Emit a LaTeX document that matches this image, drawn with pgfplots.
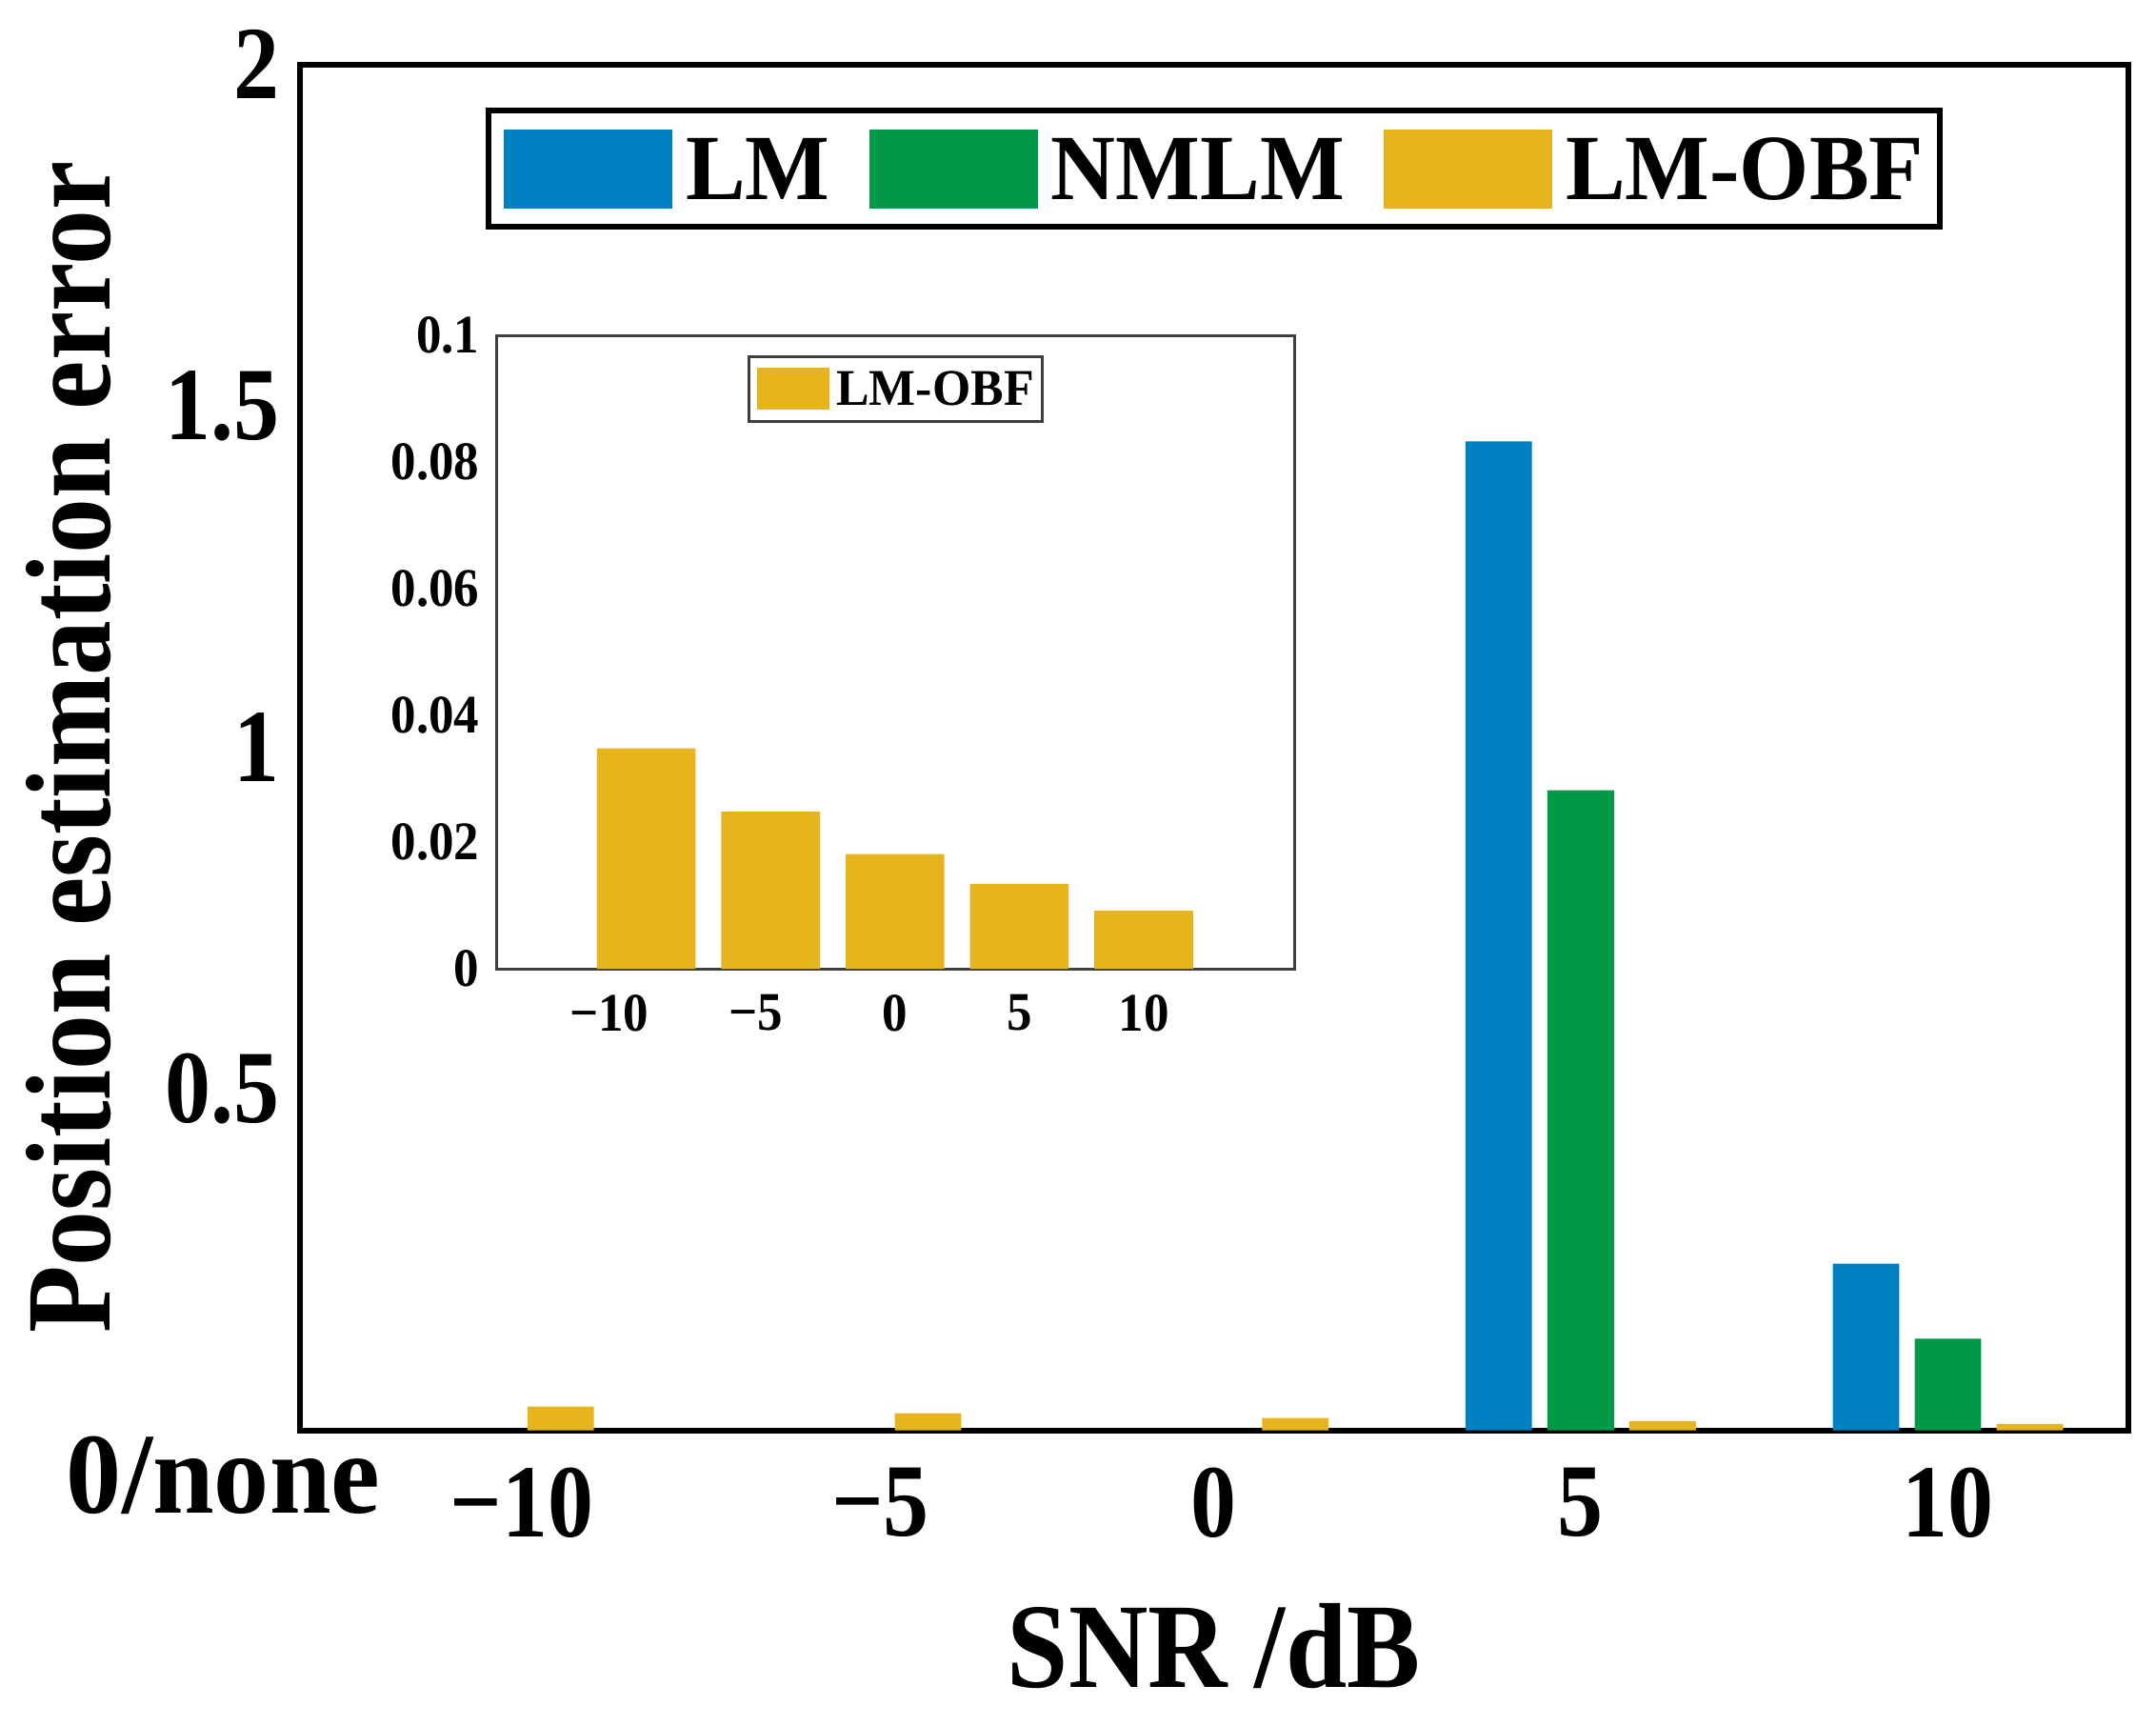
\documentclass[border=0pt]{standalone}
\usepackage{fontspec}
\setmainfont{Liberation Serif}
\newfontfamily\tickf{Liberation Serif}[FakeStretch=0.88]
\newfontfamily\labf{Liberation Serif}[FakeStretch=0.91]
\newfontfamily\nonef{Liberation Serif}[FakeStretch=0.96]
\newfontfamily\legf{Liberation Serif}[FakeStretch=0.96]
\newfontfamily\insetf{Liberation Serif}[FakeStretch=0.93]
\usepackage{pgfplots}
\pgfplotsset{compat=1.18}
\definecolor{cLM}{RGB}{0,128,192}
\definecolor{cNM}{RGB}{0,153,72}
\definecolor{cOB}{RGB}{230,181,30}
\pgfplotsset{
  bigleg/.style={legend image code/.code={\path[##1] (0pt,-8.3pt) rectangle (35.4pt,8.3pt);}},
  smallleg/.style={legend image code/.code={\path[##1] (0pt,-4.4pt) rectangle (15.2pt,4.4pt);}},
}
\begin{document}
\begin{tikzpicture}
\begin{axis}[
  name=main,
  at={(0pt,0pt)}, anchor=south west,
  scale only axis, width=383.9pt, height=286.8pt,
  xmin=-0.487, xmax=4.49, ymin=0, ymax=2,
  axis line style={line width=1.2pt, black},
  xtick={0,1,2,3,4},
  xticklabels={\hspace*{18pt}−10, \hspace*{14.4pt}−5, 0, 5, 10},
  ytick={0.5,1,1.5,2},
  yticklabels={0.5,1,1.5,2},
  major tick length=0pt,
  tick label style={font=\tickf\fontsize{21.8}{21.8}\selectfont\bfseries},
  xticklabel style={yshift=-4.4pt},
  yticklabel style={xshift=-0.7pt},
  xlabel={SNR /dB},
  ylabel={Position estimation error},
  label style={font=\labf\fontsize{25.4}{25.4}\selectfont\bfseries},
  xlabel style={at={(rel axis cs:0.5,-0.1886)}, anchor=base},
  ylabel style={at={(rel axis cs:-0.1266,0.5)}, anchor=center},
  legend columns=-1,
  legend style={at={(0.5,1)}, anchor=north, yshift=-9.1pt,
    draw=black, line width=1.2pt, inner xsep=3.3pt, inner ysep=3.9pt,
    font=\legf\fontsize{19.6}{19.6}\selectfont\bfseries,
    nodes={inner sep=0pt, text depth=0pt},
    /tikz/every odd column/.append style={column sep=2.8pt},
    /tikz/every even column/.append style={column sep=8.2pt}},
]
\addplot[ybar, bar width=0.181, bar shift=-0.223, fill=cLM, draw=none, bigleg]
  coordinates {(3,1.448) (4,0.244)};
\addlegendentry{LM}
\addplot[ybar, bar width=0.181, bar shift=0, fill=cNM, draw=none, bigleg]
  coordinates {(3,0.937) (4,0.134)};
\addlegendentry{NMLM}
\addplot[ybar, bar width=0.181, bar shift=0.223, fill=cOB, draw=none, bigleg]
  coordinates {(0,0.0348) (1,0.0248) (2,0.0181) (3,0.0134) (4,0.0092)};
\addlegendentry{LM-OBF}
\end{axis}
\begin{axis}[
  at={(41.4pt,229.9pt)}, anchor=north west,
  scale only axis, width=167.4pt, height=133pt,
  xmin=-1.2, xmax=5.21, ymin=0, ymax=0.1,
  axis background/.style={fill=white},
  axis line style={line width=0.6pt, black!75},
  xtick={0,1,2,3,4},
  xticklabels={−10\hspace*{15.6pt}, −5\hspace*{6.2pt}, 0, 5, 10},
  ytick={0,0.02,0.04,0.06,0.08,0.1},
  yticklabels={0,0.02,0.04,0.06,0.08,0.1},
  major tick length=0pt,
  tick label style={font=\insetf\fontsize{11.4}{11.4}\selectfont\bfseries},
  xticklabel style={yshift=-2.0pt},
  yticklabel style={xshift=-0.2pt},
  legend style={at={(0.5,1)}, anchor=north, yshift=-4.1pt,
    draw=black!75, line width=0.6pt, inner xsep=1.7pt, inner ysep=2.4pt,
    font=\legf\fontsize{10.8}{10.8}\selectfont\bfseries,
    nodes={inner sep=0pt, text depth=0pt},
    /tikz/every odd column/.append style={column sep=1.4pt}},
]
\addplot[ybar, bar width=0.793, bar shift=0, fill=cOB, draw=none, smallleg]
  coordinates {(0,0.0348) (1,0.0248) (2,0.0181) (3,0.0134) (4,0.0092)};
\addlegendentry{LM-OBF}
\end{axis}
\node[anchor=base west, inner sep=0pt, font=\nonef\fontsize{24.2}{24.2}\selectfont\bfseries] at (-49.2pt,-17.3pt) {0/none};
\pgfresetboundingbox
\path[use as bounding box] (-63pt,-61.9pt) rectangle (389.8pt,300.3pt);
\end{tikzpicture}
\end{document}
